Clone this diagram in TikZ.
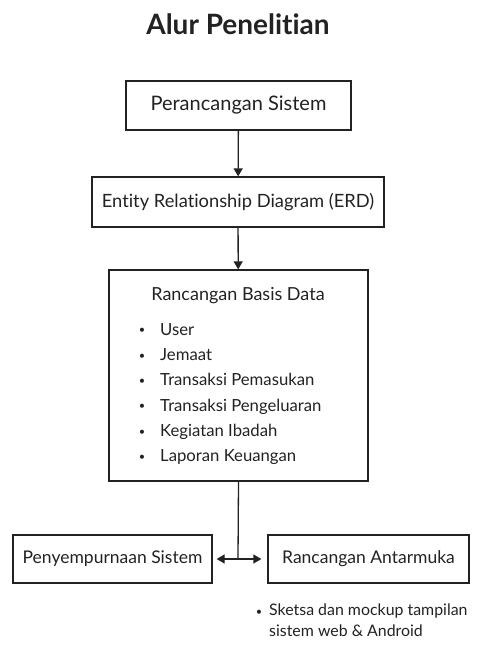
\documentclass[tikz,border=0pt]{standalone}
\usepackage{fontspec}
\setmainfont[Ligatures={NoCommon}]{Lato}
\usetikzlibrary{arrows.meta}
\definecolor{ink}{HTML}{222222}
\tikzset{
  box/.style={draw=ink, line width=1.3pt, text=ink, inner sep=0pt, align=center},
  lbl/.style={text=ink, inner sep=0pt},
  conn/.style={draw=ink, line width=1.3pt},
  tip/.style={-{Triangle[length=8pt,width=9pt]}},
  dot/.style={lbl, font=\fontsize{11}{13}\selectfont},
}
\begin{document}
\begin{tikzpicture}[x=1pt,y=-1pt]
\useasboundingbox (0,0) rectangle (485,645);
\node[lbl, font=\fontsize{28}{33}\selectfont\bfseries] (title) at (238,24) {Alur Penelitian};
\node[box, minimum width=225pt, minimum height=49pt, font=\fontsize{20}{24}\selectfont] (b1) at (238.5,105.5) {Perancangan Sistem};
\node[box, minimum width=292pt, minimum height=50pt, font=\fontsize{18.3}{22}\selectfont] (b2) at (238,202) {Entity Relationship Diagram (ERD)};
\node[box, minimum width=259pt, minimum height=211pt] (b3) at (238.5,375.5) {};
\node[lbl, font=\fontsize{18}{22}\selectfont] (h3) at (238,296) {Rancangan Basis Data};
\foreach \t [count=\i] in {User, Jemaat, Transaksi Pemasukan, Transaksi Pengeluaran, Kegiatan Ibadah, Laporan Keuangan}{
  \node[dot] (d\i) at (142,{306+25.3*\i}) {\textbullet};
  \node[lbl, anchor=west, font=\fontsize{16.7}{20}\selectfont] (t\i) at (160,{306+25.3*\i}) {\strut\t};
}
\node[box, minimum width=199pt, minimum height=48pt, font=\fontsize{17.5}{21}\selectfont] (left) at (112.5,559) {Penyempurnaan Sistem};
\node[box, minimum width=201pt, minimum height=48pt, font=\fontsize{17.5}{21}\selectfont] (right) at (368.5,559) {Rancangan Antarmuka};
\coordinate (j) at (238,559);
\draw[conn, tip] (b1) -- (b2);
\draw[conn, tip] (b2) -- (b3);
\draw[conn] (b3.south) -- (j);
\draw[conn, tip, shorten >=4pt] (j) -- (left.east);
\draw[conn, tip, shorten >=6pt] (j) -- (right.west);
\node[dot] (nb) at (259,613) {\textbullet};
\node[lbl, anchor=north west, align=left, font=\fontsize{15.9}{21}\selectfont] (note) at (269,601) {\strut Sketsa dan mockup tampilan\\\strut sistem web \& Android};
\end{tikzpicture}
\end{document}
